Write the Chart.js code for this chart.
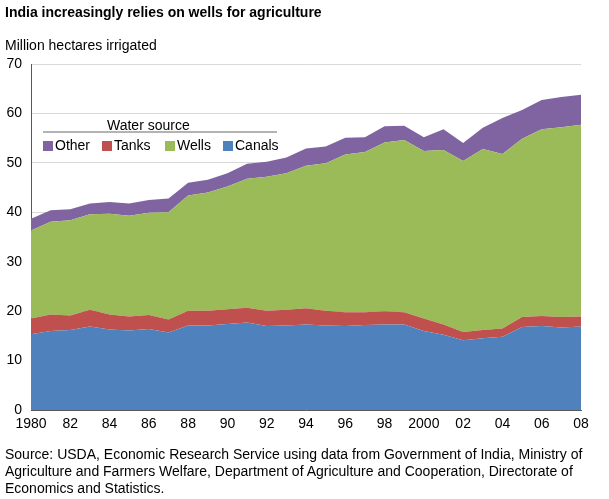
<!DOCTYPE html>
<html>
<head>
<meta charset="utf-8">
<script src="https://cdn.jsdelivr.net/npm/chart.js@4"></script>
<style>
  body { margin: 0; background: #fff; font-family: "Liberation Sans", Arial, sans-serif; color: #000; }
  #wrap { position: relative; width: 609px; height: 499px; overflow: hidden; }
  #chart { position: absolute; left: 0; top: 0; }
  .txt { position: absolute; white-space: nowrap; }
  #title { left: 5px; top: 4px; font-size: 14px; font-weight: bold; }
  #ytitle { left: 5px; top: 37px; font-size: 14px; }
  #source { left: 5px; top: 446px; font-size: 14px; line-height: 17px; white-space: normal; width: 600px; }
  #legTitle { left: 107px; top: 117px; font-size: 14px; }
  #legLine { position: absolute; left: 43px; top: 131px; width: 234px; height: 2px; background: #b3b3b3; }
  .item { position: absolute; top: 137px; font-size: 14px; white-space: nowrap; }
  .item i { display: inline-block; width: 10px; height: 10px; margin-right: 2px; vertical-align: -1px; }
</style>
</head>
<body>
<div id="wrap">
  <canvas id="chart" width="609" height="499"></canvas>
  <div class="txt" id="title">India increasingly relies on wells for agriculture</div>
  <div class="txt" id="ytitle">Million hectares irrigated</div>
  <div class="txt" id="legTitle">Water source</div>
  <div id="legLine"></div>
  <div id="legend"></div>
  <div class="txt" id="source">Source: USDA, Economic Research Service using data from Government of India, Ministry of Agriculture and Farmers Welfare, Department of Agriculture and Cooperation, Directorate of Economics and Statistics.</div>
</div>
<script>
// years on the x axis
const years = [1980, 1981, 1982, 1983, 1984, 1985, 1986, 1987, 1988, 1989,
  1990, 1991, 1992, 1993, 1994, 1995, 1996, 1997, 1998, 1999,
  2000, 2001, 2002, 2003, 2004, 2005, 2006, 2007, 2008];

// million hectares
const canals = [15.3, 16.0, 16.2, 16.9, 16.3, 16.1, 16.4, 15.7, 17.1, 17.1,
  17.4, 17.7, 17.0, 17.1, 17.3, 17.1, 17.0, 17.2, 17.3, 17.3,
  16.0, 15.2, 14.1, 14.5, 14.8, 16.8, 17.0, 16.7, 16.9];
const tanks = [3.2, 3.3, 2.9, 3.4, 3.0, 2.8, 2.8, 2.6, 3.0, 3.0,
  3.0, 3.0, 3.1, 3.2, 3.3, 3.0, 2.8, 2.6, 2.7, 2.5,
  2.5, 2.1, 1.7, 1.7, 1.7, 2.0, 2.0, 2.1, 2.0];
const wells = [17.8, 18.8, 19.3, 19.3, 20.4, 20.4, 20.7, 21.7, 23.3, 23.9,
  24.8, 26.1, 27.1, 27.6, 28.8, 29.8, 31.9, 32.4, 34.1, 34.8,
  33.9, 35.3, 34.6, 36.6, 35.3, 36.1, 37.8, 38.4, 38.8];
const other = [2.4, 2.3, 2.2, 2.2, 2.4, 2.5, 2.6, 2.8, 2.6, 2.6,
  2.7, 3.0, 3.0, 3.2, 3.5, 3.4, 3.4, 3.0, 3.3, 2.9,
  2.8, 4.2, 3.6, 4.3, 7.3, 5.8, 5.9, 6.1, 6.1];

const legendNames = ["Other", "Tanks", "Wells", "Canals"];
const legendLeft = [43, 102, 165, 223];
const colors = { Canals: "#4f81bd", Tanks: "#c0504d", Wells: "#9bbb59", Other: "#8064a2" };

// legend inside the plot, as html text
const leg = document.getElementById("legend");
legendNames.forEach((n, i) => {
  const d = document.createElement("div");
  d.className = "item";
  d.style.left = legendLeft[i] + "px";
  d.innerHTML = '<i style="background:' + colors[n] + '"></i>' + n;
  leg.appendChild(d);
});

function area(label, data, fill) {
  return {
    label: label,
    data: data,
    backgroundColor: colors[label],
    borderColor: colors[label],
    borderWidth: 0,
    pointRadius: 0,
    tension: 0,
    fill: fill
  };
}

const font = { family: "'Liberation Sans', Arial, sans-serif", size: 14 };

new Chart(document.getElementById("chart"), {
  type: "line",
  data: {
    labels: years,
    datasets: [
      area("Canals", canals, "origin"),
      area("Tanks", tanks, "-1"),
      area("Wells", wells, "-1"),
      area("Other", other, "-1")
    ]
  },
  options: {
    responsive: false,
    animation: false,
    layout: { padding: { left: 0, top: 64, right: 28, bottom: 59 } },
    plugins: { legend: { display: false }, tooltip: { enabled: false } },
    scales: {
      x: {
        type: "linear",
        min: 1980,
        max: 2008,
        grid: { display: false, drawTicks: false },
        border: { color: "#595959", width: 1 },
        ticks: {
          stepSize: 2,
          autoSkip: false,
          maxRotation: 0,
          padding: 6,
          color: "#000",
          font: font,
          callback: v => (v === 1980 || v === 2000) ? String(v) : String(v).slice(2)
        },
        afterFit: s => { s.height = 30; }
      },
      y: {
        stacked: true,
        min: 0,
        max: 70,
        grid: { color: "#d9d9d9", drawTicks: false },
        border: { color: "#595959", width: 1 },
        ticks: { stepSize: 10, padding: 9, color: "#000", font: font },
        afterFit: s => { s.width = 31; }
      }
    }
  }
});
</script>
</body>
</html>
